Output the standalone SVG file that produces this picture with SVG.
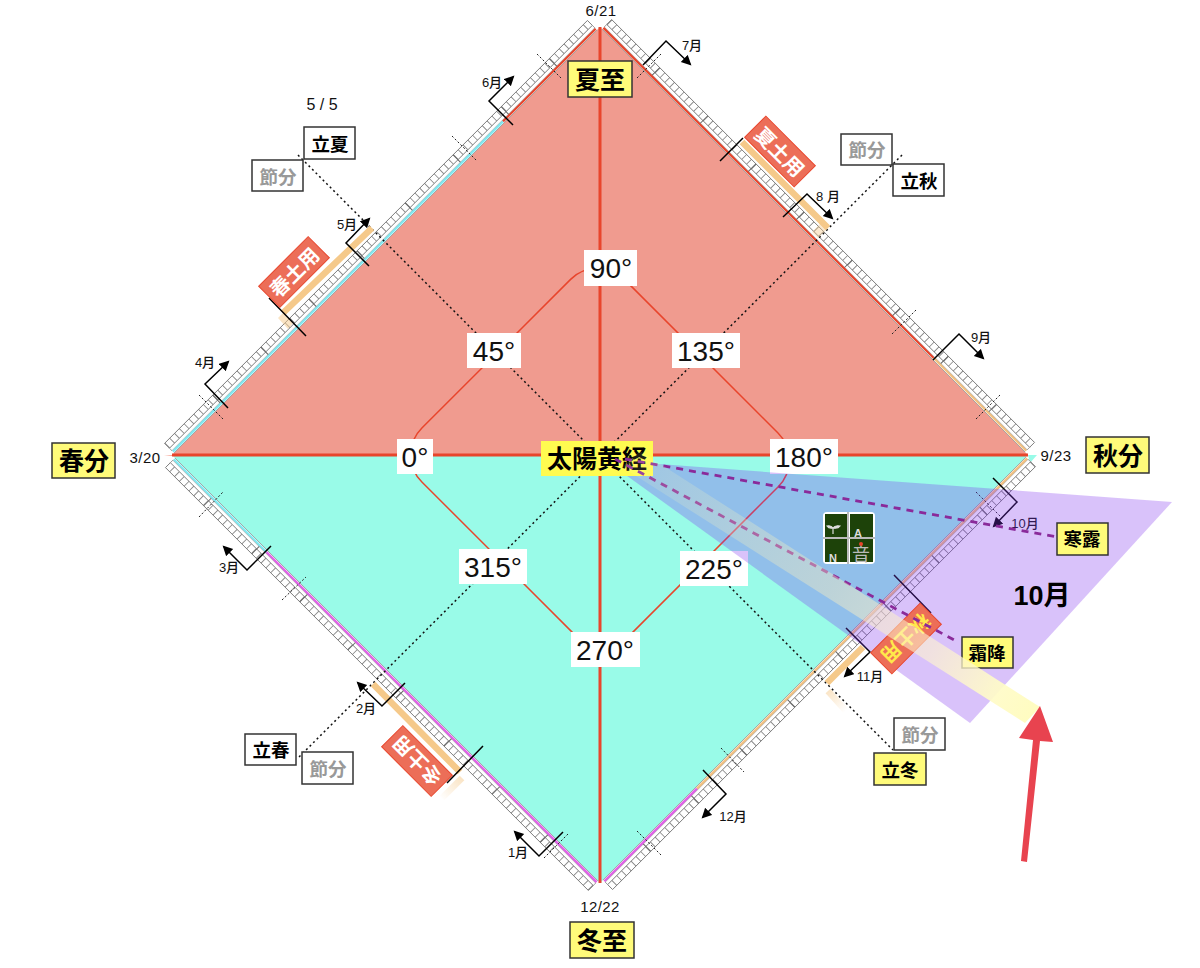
<svg xmlns="http://www.w3.org/2000/svg" width="1200" height="968" viewBox="0 0 1200 968">
<style>
text{font-family:"Liberation Sans","Noto Sans CJK JP",sans-serif;text-anchor:middle;dominant-baseline:central}
.yl{fill:#fffb7a;stroke:#333;stroke-width:1.5}
.wb{fill:#fff;stroke:#333;stroke-width:1.5}
.big{font-size:25px;font-weight:700;fill:#000}
.mid{font-size:18.500px;font-weight:700;fill:#000}
.gr{font-size:18.500px;font-weight:700;fill:#999}
.deg{font-size:28px;fill:#111}
.dl{fill:#fff}
.mo{font-size:13px;font-weight:500;fill:#111}
.dt{font-size:15px;fill:#111;letter-spacing:.4px}
.co{fill:none;stroke:#000;stroke-width:1.5;marker-end:url(#ah)}
.tk{fill:none;stroke:#000;stroke-width:1.5}
.dsh{stroke:#222;stroke-width:1;stroke-dasharray:2 2;fill:none}
.dot{stroke:#111;stroke-width:1.5;stroke-dasharray:2 3;fill:none}
.strip{fill:none;stroke-width:2.2}
.pd{fill:none;stroke:#8a2a9a;stroke-width:2.8;stroke-dasharray:7 6}
.do{fill:none;stroke:#f5c98a;stroke-width:6.5}
.dy{fill:#ec6e58;stroke:#e8452c;stroke-width:1}
.dyt{font-size:20px;font-weight:700;fill:#fff}
</style>
<defs>
<marker id="ah" markerWidth="11" markerHeight="11" refX="8" refY="5" orient="auto" markerUnits="userSpaceOnUse"><path d="M0 0L10 5L0 10Z" fill="#000"/></marker>
<linearGradient id="ray" gradientUnits="userSpaceOnUse" x1="625" y1="460" x2="1035" y2="715"><stop offset="0" stop-color="#fffcb8" stop-opacity=".1"/><stop offset=".5" stop-color="#f8eec0" stop-opacity=".42"/><stop offset=".75" stop-color="#fff4d0" stop-opacity=".62"/><stop offset=".9" stop-color="#fffbc8" stop-opacity=".92"/><stop offset="1" stop-color="#fffcc0" stop-opacity="1"/></linearGradient>
<linearGradient id="fade1" gradientUnits="userSpaceOnUse" x1="826" y1="692" x2="845" y2="712"><stop offset="0" stop-color="#f5c98a" stop-opacity=".5"/><stop offset="1" stop-color="#f5c98a" stop-opacity="0"/></linearGradient>
<linearGradient id="fade2" gradientUnits="userSpaceOnUse" x1="462" y1="778" x2="440" y2="798"><stop offset="0" stop-color="#f5c98a" stop-opacity=".5"/><stop offset="1" stop-color="#f5c98a" stop-opacity="0"/></linearGradient>
<g id="band"><rect x="3" y="-13.500" width="598" height="7" fill="#fff"/>
<path d="M3-10H601" stroke="#888" stroke-width="7" stroke-dasharray=".9 5.9" fill="none"/>
<rect x="3" y="-13.500" width="598" height="7" fill="none" stroke="#777" stroke-width=".9"/><rect x="3" y="-6.500" width="598" height="3.500" fill="#fff" stroke="#888" stroke-width=".8"/>
<path d="M71-13.500V-2.500M139-13.500V-2.500M207-13.500V-2.500M275-13.500V-2.500M343-13.500V-2.500M411-13.500V-2.500M479-13.500V-2.500M547-13.500V-2.500" stroke="#666" stroke-width="1"/><path d="M3 0H601" stroke="#999" stroke-width=".8"/></g>
</defs>

<g id="field">
<path d="M600 27L1028 455H172Z" fill="#f09b8f"/>
<path d="M172 455H1028L600 883Z" fill="#99fbe8"/>
<path d="M164 455H172V456Z" fill="#f5a090"/>
<path d="M1028 455H1037L1030 463Z" fill="#99fbe8"/>
</g>

<g id="rulers">
<g transform="translate(172 455) rotate(-45)"><use href="#band"/><path class="strip" stroke="#7fe8f0" d="M3-1.800H470"/><path class="strip" stroke="#e8452c" d="M470-1.800H601"/></g>
<g transform="translate(600 27) rotate(45)"><use href="#band"/><path class="strip" stroke="#e8452c" d="M3-1.800H470"/><path class="strip" stroke="#f2c07f" d="M470-1.800H601"/></g>
<g transform="translate(1028 455) rotate(135)"><use href="#band"/><path class="strip" stroke="#f2c07f" d="M3-1.800H470"/><path class="strip" stroke="#e060e8" d="M470-1.800H601"/></g>
<g transform="translate(600 883) rotate(225)"><use href="#band"/><path class="strip" stroke="#e060e8" d="M3-1.800H470"/><path class="strip" stroke="#7fe8f0" d="M470-1.800H601"/></g>
</g>

<g id="connectors">
<path fill="none" stroke="#e8452c" stroke-width="1.5" d="M570.6 279.400A38 38 0 0 1 624.400 279.400L778 433A38 38 0 0 1 778 487L629.400 635.600A38 38 0 0 1 575.600 635.600L421.900 482A38 38 0 0 1 421.900 428Z"/>
<path class="dot" d="M298 155L893 750"/>
<path class="dot" d="M902 155L298 758"/>
<path fill="none" stroke="#e8452c" stroke-width="3" d="M172 455H1028M600 27V883"/>

<path class="do" d="M283 313L372 228M742 142L828 228M373 684L460 772M863 647L827 683"/>
<path d="M283 313L293 323L288 329L278 318Z" fill="#f5c98a" fill-opacity=".5"/>
<path d="M828 228L818 238L812 232L822 222Z" fill="#f5c98a" fill-opacity=".4"/>
<path d="M828 691L846 711" stroke="url(#fade1)" stroke-width="6.500" fill="none"/>
<path d="M462 778L442 798" stroke="url(#fade2)" stroke-width="6.500" fill="none"/>

<path class="dsh" d="M537 54L561 78M452 136L477 161M199 395L223 419M637 78L661 54M892 334L916 310M976 419L1000 395M976 492L1000 516M199 517L223 492M282 600L306 577M544 858L568 834M637 831L661 855M721 748L744 772"/>

<path class="tk" d="M269 298L306 336M720 161L743 138M447 783L483 746M894 575L931 613"/>
<path class="co" d="M513 125L489 101L513 77"/>
<path class="co" d="M643 65L666 41L690 64"/>
<path class="co" d="M783 217L807 194L832 218"/>
<path class="co" d="M933 360L959 334L983 358"/>
<path class="co" d="M993 478L1017 502L994 526"/>
<path class="co" d="M846 628L870 652L845 676"/>
<path class="co" d="M703 770L726 794L703 817"/>
<path class="co" d="M563 832L539 856L515 832"/>
<path class="co" d="M405 683L382 706L358 683"/>
<path class="co" d="M271 546L247 570L224 547"/>
<path class="co" d="M228 408L205 384L228 362"/>
<path class="co" d="M369 266L346 243L369 219"/>
</g>

<g id="month-labels">
<text class="mo" x="492" y="82">6月</text>
<text class="mo" x="692" y="45">7月</text>
<text class="mo" x="828" y="196">8 月</text>
<text class="mo" x="981" y="337">9月</text>
<text class="mo" x="1025" y="523">10月</text>
<text class="mo" x="870" y="676">11月</text>
<text class="mo" x="733" y="816">12月</text>
<text class="mo" x="518" y="852">1月</text>
<text class="mo" x="366" y="708">2月</text>
<text class="mo" x="229" y="567">3月</text>
<text class="mo" x="205" y="362">4月</text>
<text class="mo" x="347" y="224">5月</text>
</g>

<g id="dates">
<text class="dt" x="601" y="10">6/21</text>
<text class="dt" x="600" y="906">12/22</text>
<text class="dt" x="145" y="457">3/20</text>
<text class="dt" x="1056" y="455">9/23</text>
<text x="322" y="104" font-size="16" fill="#111">5 / 5</text>
</g>

<g id="degree-labels">
<rect class="dl" x="584" y="250" width="53" height="36"/><text class="deg" x="611" y="268">90°</text>
<rect class="dl" x="467" y="333" width="54" height="35"/><text class="deg" x="494" y="351">45°</text>
<rect class="dl" x="672" y="333" width="68" height="35"/><text class="deg" x="706" y="351">135°</text>
<rect class="dl" x="397" y="439" width="36" height="35"/><text class="deg" x="415" y="457">0°</text>
<rect class="dl" x="770" y="439" width="68" height="35"/><text class="deg" x="804" y="457">180°</text>
<rect class="dl" x="459" y="549" width="68" height="35"/><text class="deg" x="493" y="567">315°</text>
<rect class="dl" x="680" y="551" width="68" height="35"/><text class="deg" x="714" y="569">225°</text>
<rect class="dl" x="571" y="632" width="69" height="35"/><text class="deg" x="605" y="650">270°</text>
</g>

<g id="geshi"><rect class="yl" x="568" y="61" width="64" height="36"/><text class="big" x="600" y="80">夏至</text></g>
<g id="shunbun"><rect class="yl" x="52" y="443" width="63" height="35"/><text class="big" x="84" y="461">春分</text></g>
<g id="shubun"><rect class="yl" x="1086" y="437" width="63" height="36"/><text class="big" x="1118" y="456">秋分</text></g>
<g id="toji"><rect class="yl" x="570" y="922" width="64" height="36"/><text class="big" x="602" y="941">冬至</text></g>

<g id="october-wedge">
<path d="M605 460L1172 502L970 723Z" fill="#8034ee" fill-opacity=".3"/>
<text x="1042" y="596" font-size="27" font-weight="700" fill="#000">10月</text>
</g>

<g id="sun"><rect x="541" y="441" width="112" height="35" fill="#fffb50"/><text class="big" x="597" y="459">太陽黄経</text></g>

<g id="logo"><rect x="823" y="512" width="52" height="52" rx="4" fill="#fff"/>
<path d="M825 514H848V537H825ZM850 514H873V537H850ZM825 539H848V562H825ZM850 539H873V562H850Z" fill="#1d4209"/>
<path d="M848 512V564M823 538H875" stroke="#bbb" stroke-width="2"/>
<path d="M833 534V528M827 526Q831 525 833 528Q835 525 840 526Q838 529 833 528Q829 529 827 526Z" stroke="#ddd" stroke-width="1.200" fill="#ddd"/>
<text x="858" y="533" font-size="11" font-weight="700" fill="#ddd">A</text>
<text x="833" y="558" font-size="11" font-weight="700" fill="#ddd">N</text>
<text x="861" y="555" font-size="18" fill="#bbb">音</text>
<circle cx="861" cy="544" r="2" fill="#e8452c"/></g>

<g id="doyo-spring" transform="translate(294 272) rotate(-45)"><rect class="dy" x="-35" y="-15" width="70" height="30"/><text class="dyt" x="0" y="1">春土用</text></g>
<g id="doyo-summer" transform="translate(780 151.500) rotate(45)"><rect class="dy" x="-35" y="-15" width="70" height="30"/><text class="dyt" x="0" y="1">夏土用</text></g>
<g id="doyo-winter" transform="translate(417 761) rotate(225)"><rect class="dy" x="-35" y="-15" width="70" height="30"/><text class="dyt" x="0" y="1">冬土用</text></g>
<g id="doyo-autumn" transform="translate(906 638.500) rotate(135)"><rect class="dy" x="-35" y="-15" width="70" height="30"/><text class="dyt" x="0" y="1" style="fill:#ffe94a">秋土用</text></g>

<g id="sekki-lines">
<path class="pd" d="M625 459L1057 537"/>
<path class="pd" d="M615 459L958 642"/>
</g>
<g id="kanro"><rect class="yl" x="1057" y="523" width="51" height="32"/><text class="mid" x="1082" y="539">寒露</text></g>
<g id="soko"><rect class="yl" x="962" y="637" width="51" height="31"/><text class="mid" x="987" y="653">霜降</text></g>

<g id="ray"><path d="M640 451L1040 707L1025 723L622 467Z" fill="url(#ray)"/></g>

<g id="arrow"><path d="M1040 706L1053 742L1040 741L1027 862L1021 861L1033 740L1019 738Z" fill="#e8434f"/></g>

<g id="rikka"><rect class="wb" x="304" y="127" width="51" height="32"/><text class="mid" x="330" y="144">立夏</text></g>
<g id="setsubun1"><rect class="wb" x="252" y="160" width="51" height="31"/><text class="gr" x="278" y="177">節分</text></g>
<g id="risshu"><rect class="wb" x="893" y="164" width="51" height="32"/><text class="mid" x="919" y="181">立秋</text></g>
<g id="setsubun2"><rect class="wb" x="841" y="134" width="51" height="31"/><text class="gr" x="867" y="150">節分</text></g>
<g id="risshun"><rect class="wb" x="245" y="734" width="51" height="31"/><text class="mid" x="271" y="750">立春</text></g>
<g id="setsubun3"><rect class="wb" x="302" y="752" width="51" height="32"/><text class="gr" x="328" y="769">節分</text></g>
<g id="setsubun4"><rect class="wb" x="894" y="718" width="51" height="32"/><text class="gr" x="920" y="735">節分</text></g>
<g id="ritto"><rect class="yl" x="874" y="753" width="52" height="32"/><text class="mid" x="900" y="770">立冬</text></g>
</svg>
